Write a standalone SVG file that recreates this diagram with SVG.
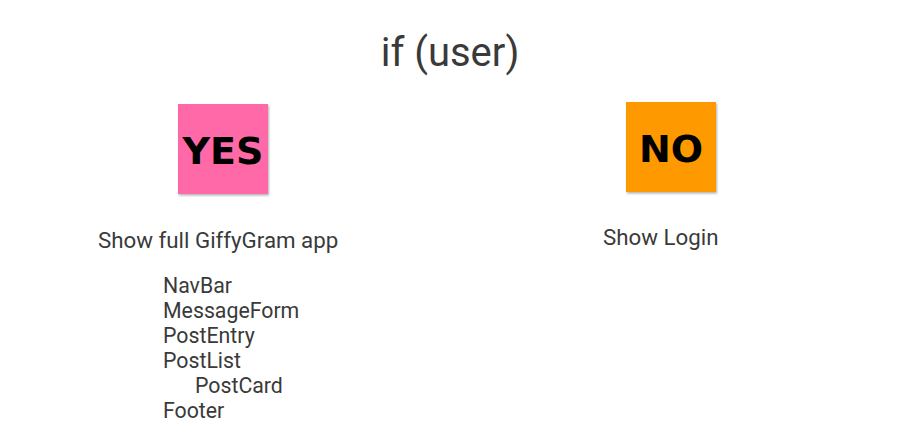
<svg xmlns="http://www.w3.org/2000/svg" width="921" height="440" viewBox="0 0 921 440">
<defs>
<filter id="sh" x="-10%" y="-10%" width="130%" height="130%"><feDropShadow dx="1" dy="1.5" stdDeviation="1" flood-color="#000" flood-opacity="0.3"/></filter>
<style>
.t{font-family:Roboto,"Liberation Sans",sans-serif;fill:#3a3a3a}
.l{font-size:21.3px}
.b{font-family:"DejaVu Sans","Liberation Sans",sans-serif;font-weight:bold;fill:#000;text-anchor:middle}
</style>
</defs>
<rect width="921" height="440" fill="#fff"/>
<text id="title" class="t" x="450" y="66" font-size="40" text-anchor="middle">if (user)</text>
<g id="yes">
<rect x="178" y="104" width="90" height="90" fill="#ff69a8" filter="url(#sh)"/>
<text class="b" x="223" y="164" font-size="38">YES</text>
</g>
<g id="no">
<rect x="626" y="102" width="90" height="90" fill="#ff9900" filter="url(#sh)"/>
<text class="b" x="671" y="162" font-size="38">NO</text>
</g>
<g id="connectors"/>
<g id="yes-label">
<text class="t" x="98" y="248" font-size="22.3">Show full GiffyGram app</text>
<text class="t l" x="163" y="293">NavBar</text>
<text class="t l" x="163" y="318">MessageForm</text>
<text class="t l" x="163" y="343">PostEntry</text>
<text class="t l" x="163" y="368">PostList</text>
<text class="t l" x="195" y="393">PostCard</text>
<text class="t l" x="163" y="418">Footer</text>
</g>
<g id="no-label">
<text class="t" x="603" y="245" font-size="22.3">Show Login</text>
</g>
</svg>
